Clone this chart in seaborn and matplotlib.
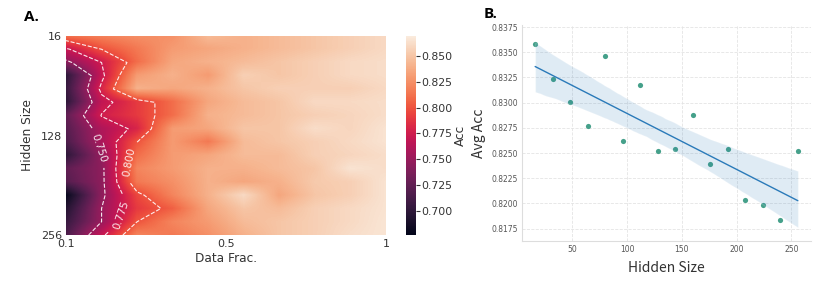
import numpy as np
import matplotlib
matplotlib.use("Agg")
import matplotlib.pyplot as plt
import seaborn as sns

# panel A: accuracy grid, rows = hidden size (16..256), cols = data fraction (0.1..1.0)
hidden_sizes = [16, 32, 48, 64, 80, 96, 112, 128, 144, 160, 176, 192, 208, 224, 240, 256]
data_fracs = [0.1, 0.2, 0.3, 0.4, 0.5, 0.6, 0.7, 0.8, 0.9, 1.0]
acc_grid = [
    [0.815, 0.820, 0.825, 0.825, 0.845, 0.840, 0.845, 0.850, 0.855, 0.860],
    [0.772, 0.800, 0.815, 0.830, 0.835, 0.840, 0.845, 0.850, 0.855, 0.860],
    [0.745, 0.775, 0.810, 0.835, 0.840, 0.845, 0.850, 0.855, 0.860, 0.862],
    [0.700, 0.770, 0.830, 0.840, 0.830, 0.855, 0.850, 0.855, 0.860, 0.862],
    [0.705, 0.780, 0.840, 0.835, 0.840, 0.850, 0.855, 0.855, 0.855, 0.860],
    [0.700, 0.768, 0.790, 0.810, 0.835, 0.845, 0.850, 0.860, 0.860, 0.862],
    [0.725, 0.776, 0.790, 0.810, 0.840, 0.845, 0.850, 0.855, 0.858, 0.862],
    [0.720, 0.760, 0.780, 0.830, 0.835, 0.850, 0.850, 0.862, 0.858, 0.865],
    [0.715, 0.758, 0.800, 0.830, 0.815, 0.845, 0.850, 0.855, 0.860, 0.865],
    [0.700, 0.748, 0.810, 0.830, 0.835, 0.845, 0.845, 0.855, 0.858, 0.862],
    [0.725, 0.745, 0.820, 0.830, 0.840, 0.840, 0.845, 0.850, 0.865, 0.862],
    [0.720, 0.745, 0.815, 0.825, 0.840, 0.835, 0.840, 0.852, 0.855, 0.865],
    [0.680, 0.745, 0.795, 0.820, 0.840, 0.860, 0.835, 0.850, 0.855, 0.865],
    [0.695, 0.750, 0.790, 0.805, 0.835, 0.850, 0.845, 0.855, 0.860, 0.865],
    [0.705, 0.750, 0.800, 0.820, 0.830, 0.845, 0.850, 0.855, 0.860, 0.866],
    [0.715, 0.770, 0.820, 0.815, 0.825, 0.840, 0.850, 0.855, 0.862, 0.866],
]
contour_levels = [0.75, 0.775, 0.8]

# panel B: average accuracy per hidden size
avg_acc = [0.83578, 0.83231, 0.83006, 0.82768, 0.83460, 0.82619, 0.83179, 0.82524,
           0.82544, 0.82874, 0.82391, 0.82540, 0.82031, 0.81982, 0.81833, 0.82524]

sns.set_theme(style="white")
plt.rcParams["text.color"] = "#333333"
plt.rcParams["axes.labelcolor"] = "#333333"
plt.rcParams["xtick.color"] = "#333333"
plt.rcParams["ytick.color"] = "#333333"

fig = plt.figure(figsize=(8.14, 2.83), dpi=100)

# ---- A. heatmap
ax1 = fig.add_axes([0.0811, 0.1696, 0.3931, 0.7032])
cax = fig.add_axes([0.4988, 0.1696, 0.0123, 0.7032])
grid = np.array(acc_grid)
nr, nc = grid.shape
cmap = sns.color_palette("rocket", as_cmap=True)
im = ax1.imshow(grid, cmap=cmap, vmin=0.677, vmax=0.869, aspect="auto",
                interpolation="bilinear", extent=(-0.5, nc - 0.5, nr - 0.5, -0.5))
cs = ax1.contour(np.arange(nc), np.arange(nr), grid, levels=contour_levels,
                 colors="white", linestyles="--", linewidths=0.8, alpha=0.9)
ax1.clabel(cs, fmt="%.3f", fontsize=7.5, inline=True,
           manual=[(0.87, 8.5), (1.5, 13.4), (1.95, 9.6)])
ax1.set_xlim(0, nc - 1)
ax1.set_ylim(nr - 1, 0)
ax1.set_xticks([0, (nc - 1) / 2, nc - 1])
ax1.set_xticklabels([str(data_fracs[0]), "0.5", "1"], fontsize=8)
ax1.set_yticks([0, (nr - 1) / 2, nr - 1])
ax1.set_yticklabels([str(hidden_sizes[0]), "128", str(hidden_sizes[-1])], fontsize=8)
ax1.tick_params(length=0, pad=3)
for s in ax1.spines.values():
    s.set_visible(False)
ax1.set_xlabel("Data Frac.", fontsize=8.7, labelpad=2)
ax1.set_ylabel("Hidden Size", fontsize=8.7, labelpad=5)

cb = fig.colorbar(im, cax=cax)
cb.outline.set_visible(False)
cb.set_ticks([0.70, 0.725, 0.75, 0.775, 0.80, 0.825, 0.85])
cb.ax.set_yticklabels(["0.700", "0.725", "0.750", "0.775", "0.800", "0.825", "0.850"])
cb.ax.tick_params(labelsize=7.8, length=3, width=0.8, pad=1)
cb.set_label("Acc", fontsize=8.7, labelpad=1)

fig.text(0.030, 0.925, "A.", fontsize=11, fontweight="bold", family="Open Sans", color="black")

# ---- B. regression
ax2 = fig.add_axes([0.6413, 0.1495, 0.355, 0.762])
sns.regplot(x=hidden_sizes, y=avg_acc, ax=ax2, seed=3,
            scatter_kws={"color": "#45a08a", "s": 14, "alpha": 1, "linewidths": 0},
            line_kws={"color": "#2a7ab9", "linewidth": 1},
            color="#1f77b4")
ax2.set_xlim(4, 268)
ax2.set_ylim(0.8163, 0.8377)
ax2.set_yticks(np.arange(0.8175, 0.8376, 0.0025))
ax2.yaxis.set_major_formatter(matplotlib.ticker.FormatStrFormatter("%.4f"))
ax2.set_xticks([50, 100, 150, 200, 250])
ax2.grid(True, linestyle="--", color="#e4e4e4", linewidth=0.6)
ax2.tick_params(labelsize=5.5, colors="#555555", length=0, pad=3)
for side in ["top", "right"]:
    ax2.spines[side].set_visible(False)
for side in ["left", "bottom"]:
    ax2.spines[side].set_color("#dddddd")
    ax2.spines[side].set_linewidth(0.8)
ax2.set_xlabel("Hidden Size", fontsize=10, family="Noto Sans CJK SC", labelpad=5)
ax2.set_ylabel("Avg Acc", fontsize=10, family="Noto Sans CJK SC", labelpad=4)

fig.text(0.594, 0.935, "B.", fontsize=11, fontweight="bold", family="Open Sans", color="black")

fig.savefig("out.png", dpi=100)
